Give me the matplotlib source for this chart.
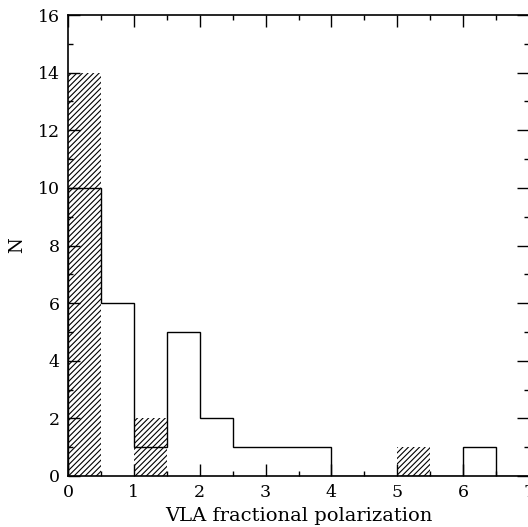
import matplotlib
matplotlib.use("Agg")
import matplotlib.pyplot as plt
from matplotlib.ticker import MultipleLocator

# bin edges (0.5 wide) and counts
edges = [0, 0.5, 1, 1.5, 2, 2.5, 3, 3.5, 4, 4.5, 5, 5.5, 6, 6.5, 7]
all_counts = [10, 6, 1, 5, 2, 1, 1, 1, 0, 0, 0, 0, 1, 0]
hatched_counts = [14, 0, 2, 0, 0, 0, 0, 0, 0, 0, 1, 0, 0, 0]

plt.rcParams['font.family'] = ['DejaVu Serif']
plt.rcParams['hatch.linewidth'] = 0.8

fig = plt.figure(figsize=(5.28, 5.27), dpi=100)
ax = fig.add_axes([0.1288, 0.0968, 0.8731, 0.8747])

ax.bar(edges[:-1], hatched_counts, width=0.5, align='edge',
       facecolor='none', edgecolor='black', linewidth=0, hatch='//////')
ax.stairs(all_counts, edges, baseline=0, color='black', linewidth=1.0)

ax.set_xlim(0, 7)
ax.set_ylim(0, 16)
ax.xaxis.set_major_locator(MultipleLocator(1))
ax.xaxis.set_minor_locator(MultipleLocator(0.5))
ax.yaxis.set_major_locator(MultipleLocator(2))
ax.yaxis.set_minor_locator(MultipleLocator(1))
ax.tick_params(which='both', direction='in', top=True, right=True,
               labelsize=12.5, width=1.0)
ax.tick_params(which='major', length=8.6, pad=6)
ax.tick_params(which='minor', length=3.6)
for s in ax.spines.values():
    s.set_linewidth(1.2)

ax.set_xlabel('VLA fractional polarization', fontsize=14, labelpad=4)
ax.set_ylabel('N', fontsize=13, labelpad=8)

fig.savefig('out.png', dpi=100)
